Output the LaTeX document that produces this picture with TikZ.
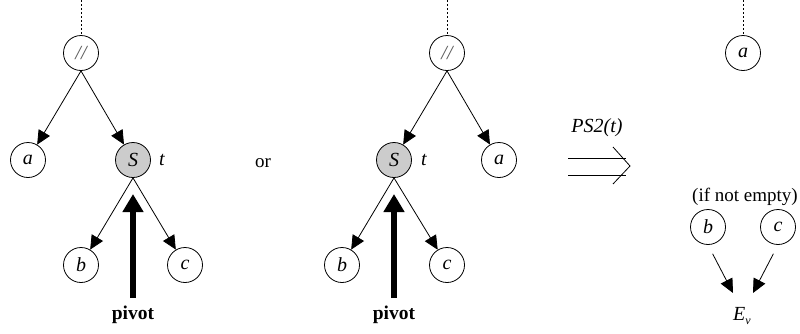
\documentclass[tikz,border=0pt]{standalone}
\usepackage{fontspec}
\setmainfont{Liberation Serif}
\usetikzlibrary{arrows.meta}
\begin{document}
\begin{tikzpicture}[x=1pt,y=-1pt,
  tn/.style={circle,draw,line width=0.8pt,minimum size=35pt,inner sep=0pt,font=\fontsize{20}{22}\selectfont\itshape},
  sn/.style={tn,fill=black!20},
  opn/.style={tn,text=black!65},
  edge/.style={line width=0.8pt,-{Triangle[length=14pt,width=13pt]}},
  dotl/.style={line width=0.8pt,dash pattern=on 2pt off 2pt},
  pivarrow/.style={line width=6pt,-{Triangle[length=18pt,width=20pt]}},
  lbl/.style={font=\fontsize{20}{22}\selectfont\itshape},
  txt/.style={font=\fontsize{19}{22}\selectfont},
  boldtxt/.style={font=\fontsize{19.5}{22}\selectfont\bfseries}]
\useasboundingbox (0,0) rectangle (800,333);
% left tree
\coordinate (top1) at (81,0);
\node[opn] (r1) at (81,53) {//};
\node[tn] (a1) at (28,160) {a};
\node[sn] (s1) at (133,160) {S};
\node[lbl] (t1) at (162,160) {t};
\node[tn] (b1) at (81,265) {b};
\node[tn] (c1) at (185,265) {c};
\draw[dotl] (top1) -- (r1);
\draw[edge] (r1.south) -- (a1);
\draw[edge] (r1.south) -- (s1);
\draw[edge] (s1.south) -- (b1);
\draw[edge] (s1.south) -- (c1);
\node[boldtxt] (p1) at (133,315) {pivot};
\coordinate (p1top) at (133,298);
\coordinate (p1tip) at (133,194);
\draw[pivarrow] (p1top) -- (p1tip);
% or
\node[txt] (or) at (263,163) {or};
% middle tree
\coordinate (top2) at (447,0);
\node[opn] (r2) at (447,53) {//};
\node[sn] (s2) at (394,160) {S};
\node[lbl] (t2) at (424,160) {t};
\node[tn] (a2) at (499,160) {a};
\node[tn] (b2) at (342,265) {b};
\node[tn] (c2) at (447,265) {c};
\draw[dotl] (top2) -- (r2);
\draw[edge] (r2.south) -- (s2);
\draw[edge] (r2.south) -- (a2);
\draw[edge] (s2.south) -- (b2);
\draw[edge] (s2.south) -- (c2);
\node[boldtxt] (p2) at (394,315) {pivot};
\coordinate (p2top) at (394,298);
\coordinate (p2tip) at (394,194);
\draw[pivarrow] (p2top) -- (p2tip);
% transformation arrow
\node[font=\fontsize{20}{22}\selectfont\itshape] (ps) at (597,128) {PS2(t)};
\coordinate (d1) at (568,158);
\coordinate (d1e) at (626,158);
\coordinate (d2) at (568,175);
\coordinate (d2e) at (626,175);
\coordinate (ch1) at (613,147);
\coordinate (cht) at (630,166);
\coordinate (ch2) at (613,184);
\draw[line width=0.8pt] (d1) -- (d1e);
\draw[line width=0.8pt] (d2) -- (d2e);
\draw[line width=0.8pt] (ch1) -- (cht) -- (ch2);
% right result
\coordinate (top3) at (743,0);
\node[tn] (a3) at (743,53) {a};
\draw[dotl] (top3) -- (a3);
\node[txt] (ine) at (745,197) {(if not empty)};
\node[tn] (b3) at (708,227) {b};
\node[tn] (c3) at (778,227) {c};
\node[lbl] (ev) at (742,316) {E\raisebox{-4pt}{\fontsize{12}{12}\selectfont v}};
\coordinate (eL) at (733,293);
\coordinate (eR) at (753,293);
\draw[edge,shorten <=10pt] (b3.south) -- (eL);
\draw[edge,shorten <=10pt] (c3.south) -- (eR);
\end{tikzpicture}
\end{document}
